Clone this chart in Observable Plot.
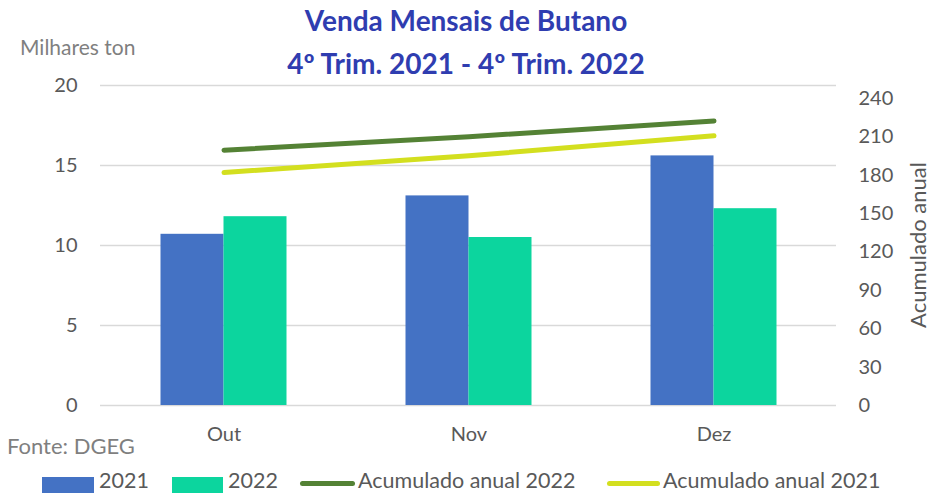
<!DOCTYPE html>
<html>
<head>
<meta charset="utf-8">
<script src="https://cdn.jsdelivr.net/npm/d3@7"></script>
<script src="https://cdn.jsdelivr.net/npm/@observablehq/plot@0.6"></script>
<style>
  html, body { margin: 0; padding: 0; background: #fff; }
  #wrap { position: relative; width: 932px; height: 493px; font-family: Lato, "Open Sans", sans-serif; overflow: hidden; }
  #chart { position: absolute; left: 0; top: 0; }
  .title { position: absolute; left: 0; width: 932px; text-align: center; color: #2F3DB0; font-weight: bold; font-size: 28px; line-height: 1; }
  .gray { position: absolute; color: #7f7f7f; font-size: 21px; line-height: 1; white-space: nowrap; }
  .leg { position: absolute; top: 470px; font-size: 21.5px; line-height: 21px; color: #595959; white-space: nowrap; }
  .sw { position: absolute; }
</style>
</head>
<body>
<div id="wrap">
  <div id="chart"></div>
  <div class="title" style="top:6px">Venda Mensais de Butano</div>
  <div class="title" style="top:49px">4º Trim. 2021 - 4º Trim. 2022</div>
  <div class="gray" style="left:20px; top:36px">Milhares ton</div>
  <div class="gray" style="left:7px; top:435px; font-size:22px">Fonte: DGEG</div>
  <div class="gray" style="left:918px; top:245px; transform: translate(-50%,-50%) rotate(-90deg); color:#595959; font-size:22px">Acumulado anual</div>
  <div id="legend"></div>
</div>
<script>
const months = ["Out", "Nov", "Dez"];
const vendas2021 = [10.7, 13.1, 15.6];
const vendas2022 = [11.8, 10.5, 12.3];
const acum2022 = [199.5, 210.0, 222.3];
const acum2021 = [182.0, 195.1, 210.7];
const leftTicks = [0, 5, 10, 15, 20];
const rightTicks = [0, 30, 60, 90, 120, 150, 180, 210, 240];
const rightMax = 250;
const leftMax = 20;
const k = leftMax / rightMax;

const t2021 = months.map((m, i) => ({month: m, value: vendas2021[i]}));
const t2022 = months.map((m, i) => ({month: m, value: vendas2022[i]}));
const a2022 = months.map((m, i) => ({month: m, value: acum2022[i] * k}));
const a2021 = months.map((m, i) => ({month: m, value: acum2021[i] * k}));

const tickColor = "#595959";

const chart = Plot.plot({
  width: 932,
  height: 493,
  marginTop: 85,
  marginBottom: 88,
  marginLeft: 100,
  marginRight: 96,
  style: {fontFamily: "Lato, 'Open Sans', sans-serif", fontSize: "20px", color: tickColor, background: "transparent"},
  x: {domain: months, paddingInner: 0.743, paddingOuter: 0.3716, axis: null},
  y: {domain: [0, leftMax], axis: null},
  marks: [
    Plot.ruleY(leftTicks, {stroke: "#d9d9d9", strokeWidth: 1.5}),
    Plot.barY(t2021, {x: "month", y: "value", fill: "#4472C4", dx: -31.5}),
    Plot.barY(t2022, {x: "month", y: "value", fill: "#0CD59E", dx: 31.5}),
    Plot.line(a2022, {x: "month", y: "value", stroke: "#548235", strokeWidth: 5, strokeLinecap: "round"}),
    Plot.line(a2021, {x: "month", y: "value", stroke: "#D3DF1F", strokeWidth: 5, strokeLinecap: "round"}),
    Plot.axisY(leftTicks, {anchor: "left", tickSize: 0, tickPadding: 23, label: null, fontSize: 20, fill: tickColor}),
    Plot.axisY(rightTicks.map(v => v * k), {anchor: "right", tickSize: 0, tickPadding: 22, label: null, fontSize: 20, fill: tickColor, tickFormat: d => String(Math.round(d / k))}),
    Plot.axisX(months, {anchor: "bottom", tickSize: 0, tickPadding: 21, label: null, fontSize: 20, fill: tickColor})
  ]
});
document.getElementById("chart").appendChild(chart);

// legend
const legendItems = [
  {label: "2021", color: "#4472C4", type: "rect", x: 42, w: 52, tx: 99},
  {label: "2022", color: "#0CD59E", type: "rect", x: 172, w: 51, tx: 228},
  {label: "Acumulado anual 2022", color: "#548235", type: "line", x: 300, w: 55, tx: 358},
  {label: "Acumulado anual 2021", color: "#D3DF1F", type: "line", x: 607, w: 53, tx: 663}
];
const leg = document.getElementById("legend");
for (const it of legendItems) {
  const s = document.createElement("div");
  s.className = "sw";
  s.style.left = it.x + "px";
  s.style.width = it.w + "px";
  s.style.background = it.color;
  if (it.type === "rect") { s.style.top = "477px"; s.style.height = "16px"; }
  else { s.style.top = "481px"; s.style.height = "5px"; s.style.borderRadius = "3px"; }
  leg.appendChild(s);
  const t = document.createElement("div");
  t.className = "leg";
  t.style.left = it.tx + "px";
  t.textContent = it.label;
  leg.appendChild(t);
}
</script>
</body>
</html>
